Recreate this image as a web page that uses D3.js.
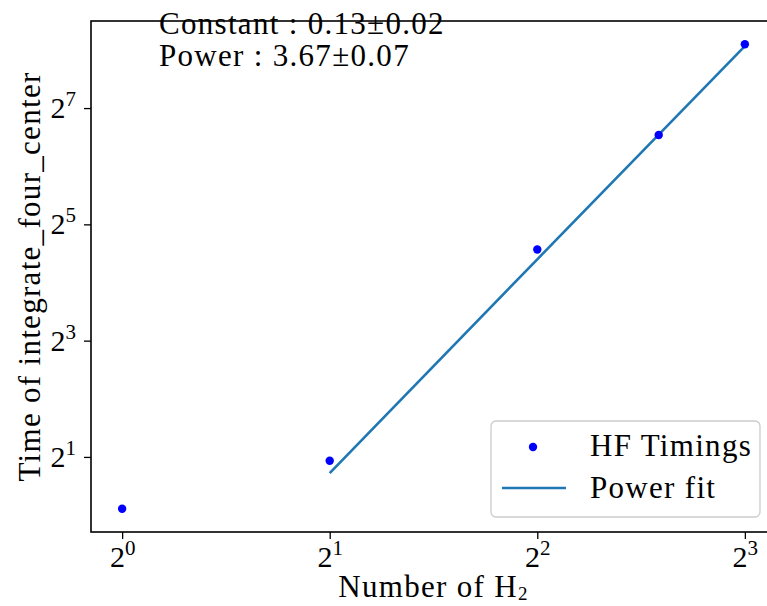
<!DOCTYPE html>
<html>
<head>
<meta charset="utf-8">
<script src="https://cdn.jsdelivr.net/npm/d3@7"></script>
<style>
  body { margin: 0; background: #fff; }
  svg { display: block; }
  text { font-family: 'Liberation Serif', 'DejaVu Serif', serif; fill: #000; }
</style>
</head>
<body>
<svg width="767" height="606"></svg>
<script>
const svg = d3.select('svg');

// data
const nH2 = [1, 2, 4, 6, 8];
const hfTimings = [1.078, 1.91, 23.7, 92.9, 274];
const fitX = [2, 4, 6, 8];
const fitY = [1.65, 21.1, 93.2, 268];
const xTicks = [1, 2, 4, 8];
const yTicks = [2, 8, 32, 128];
const fitText = ['Constant : 0.13\u00b10.02', 'Power : 3.67\u00b10.07'];
const legendLabels = ['HF Timings', 'Power fit'];

const plot = { left: 91, right: 776, top: 21, bottom: 532 };

// matplotlib style 5% margins in log space
const padLog = (lo, hi) => {
  const a = Math.log2(lo), b = Math.log2(hi), m = (b - a) * 0.05;
  return [Math.pow(2, a - m), Math.pow(2, b + m)];
};
const xExt = d3.extent(nH2.concat(fitX));
const yExt = d3.extent(hfTimings.concat(fitY));

const x = d3.scaleLog().base(2).domain(padLog(xExt[0], xExt[1])).range([plot.left, plot.right]);
const y = d3.scaleLog().base(2).domain(padLog(yExt[0], yExt[1])).range([plot.bottom, plot.top]);

const tickFont = 30;
const labelFont = 31;
const spacing = 1.3;

// power of two label with superscript
function powLabel(sel) {
  sel.each(function (d) {
    const t = d3.select(this);
    t.text(null);
    t.append('tspan').text('2');
    t.append('tspan').attr('font-size', tickFont * 0.7).attr('dy', -12).text(Math.round(Math.log2(d)));
  });
}

const xAxis = svg.append('g')
  .attr('transform', `translate(0,${plot.bottom})`)
  .call(d3.axisBottom(x).tickValues(xTicks).tickSize(7).tickPadding(4));
xAxis.select('.domain').remove();
xAxis.selectAll('line').attr('stroke', '#000').attr('stroke-width', 1.3);
xAxis.selectAll('text').attr('font-size', tickFont).attr('font-family', null)
  .attr('dy', '0.8em').call(powLabel);

const yAxis = svg.append('g')
  .attr('transform', `translate(${plot.left},0)`)
  .call(d3.axisLeft(y).tickValues(yTicks).tickSize(7).tickPadding(8));
yAxis.select('.domain').remove();
yAxis.selectAll('line').attr('stroke', '#000').attr('stroke-width', 1.3);
yAxis.selectAll('text').attr('font-size', tickFont).attr('font-family', null)
  .attr('dy', '0.32em').call(powLabel);

// fit line
const line = d3.line().x((d, i) => x(fitX[i])).y(d => y(d));
svg.append('path')
  .datum(fitY)
  .attr('d', line)
  .attr('fill', 'none')
  .attr('stroke', '#1f77b4')
  .attr('stroke-width', 2.6);

// timings
svg.append('g').selectAll('circle')
  .data(hfTimings)
  .join('circle')
  .attr('cx', (d, i) => x(nH2[i]))
  .attr('cy', d => y(d))
  .attr('r', 4.2)
  .attr('fill', '#0000ff');

// frame
svg.append('rect')
  .attr('x', plot.left).attr('y', plot.top)
  .attr('width', plot.right - plot.left).attr('height', plot.bottom - plot.top)
  .attr('fill', 'none').attr('stroke', '#000').attr('stroke-width', 1.6);

// fit annotation
svg.append('g').selectAll('text')
  .data(fitText)
  .join('text')
  .attr('x', 159)
  .attr('y', (d, i) => 34 + i * 32)
  .attr('font-size', labelFont)
  .attr('letter-spacing', spacing)
  .text(d => d);

// legend
const legend = svg.append('g');
legend.append('rect')
  .attr('x', 491).attr('y', 421).attr('width', 269).attr('height', 96)
  .attr('rx', 5)
  .attr('fill', 'rgba(255,255,255,0.8)')
  .attr('stroke', '#cccccc').attr('stroke-width', 1.3);
legend.append('circle').attr('cx', 533).attr('cy', 447).attr('r', 4.2).attr('fill', '#0000ff');
legend.append('line').attr('x1', 502).attr('x2', 566).attr('y1', 488).attr('y2', 488)
  .attr('stroke', '#1f77b4').attr('stroke-width', 2.6);
legend.selectAll('text.lab')
  .data(legendLabels)
  .join('text')
  .attr('class', 'lab')
  .attr('x', 590)
  .attr('y', (d, i) => 456 + i * 42)
  .attr('font-size', labelFont)
  .attr('letter-spacing', spacing)
  .text(d => d);

// axis labels
const xl = svg.append('text')
  .attr('x', (plot.left + plot.right) / 2)
  .attr('y', 597)
  .attr('text-anchor', 'middle')
  .attr('font-size', labelFont)
  .attr('letter-spacing', spacing);
xl.append('tspan').text('Number of H');
xl.append('tspan').attr('font-size', 19).attr('dy', 3).text('2');

svg.append('text')
  .attr('transform', `translate(40,${(plot.top + plot.bottom) / 2}) rotate(-90)`)
  .attr('text-anchor', 'middle')
  .attr('font-size', labelFont)
  .attr('letter-spacing', spacing)
  .text('Time of integrate_four_center');
</script>
</body>
</html>
